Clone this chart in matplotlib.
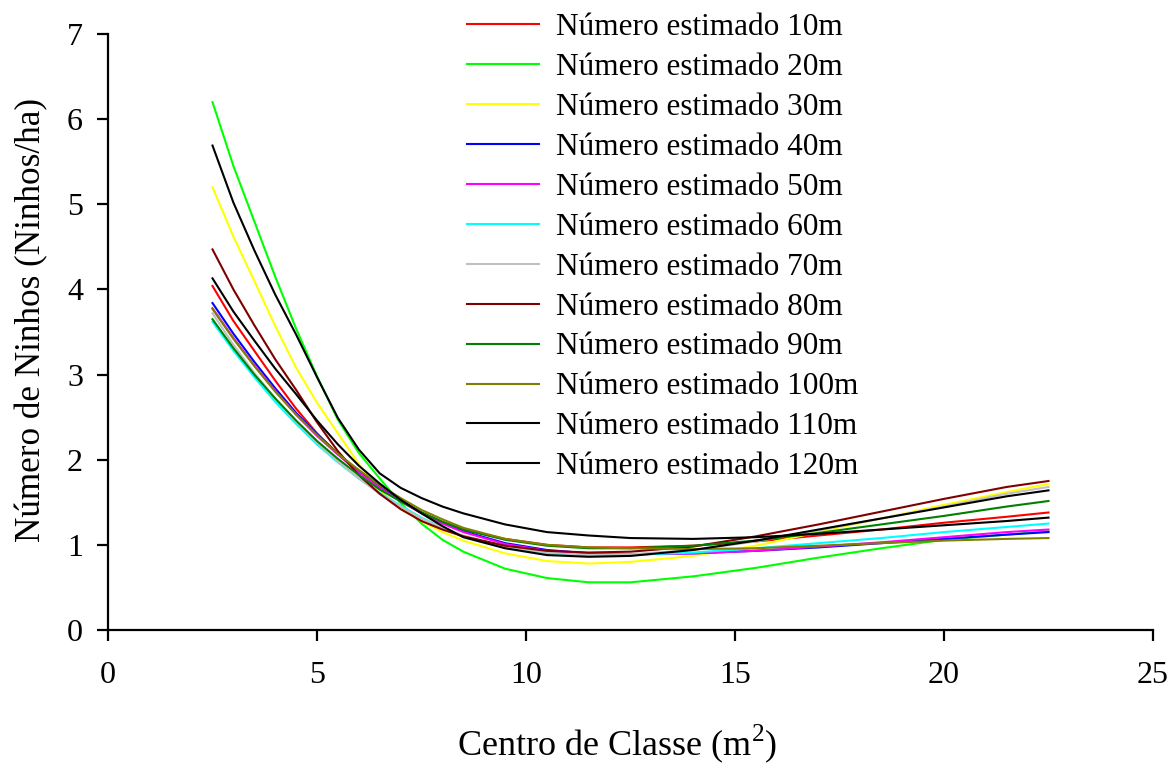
import numpy as np
import matplotlib
matplotlib.use('Agg')
import matplotlib.pyplot as plt

plt.rcParams['font.family'] = ['Liberation Serif', 'DejaVu Serif']
plt.rcParams['mathtext.fontset'] = 'custom'
plt.rcParams['mathtext.rm'] = 'Liberation Serif'

# class centres (m2) where the estimated curves are evaluated
centro = [2.5, 3, 3.5, 4, 4.5, 5, 5.5, 6, 6.5, 7, 7.5, 8, 8.5,
          9.5, 10.5, 11.5, 12.5, 14, 15.5, 17, 18.5, 20, 21.5, 22.5]

# estimated nest density (nests/ha) for each sampling distance
est_10m = [4.04, 3.63, 3.28, 2.93, 2.60, 2.31, 2.07, 1.86, 1.68, 1.52, 1.38, 1.27, 1.18,
           1.07, 1.00, 0.97, 0.97, 0.99, 1.04, 1.11, 1.18, 1.26, 1.33, 1.38]
est_20m = [6.20, 5.45, 4.80, 4.15, 3.54, 2.98, 2.47, 2.08, 1.78, 1.49, 1.25, 1.06, 0.92,
           0.72, 0.61, 0.56, 0.56, 0.63, 0.73, 0.85, 0.96, 1.06, 1.12, 1.16]
est_30m = [5.20, 4.62, 4.10, 3.57, 3.08, 2.67, 2.31, 1.95, 1.64, 1.43, 1.28, 1.15, 1.05,
           0.90, 0.81, 0.78, 0.80, 0.87, 0.99, 1.15, 1.31, 1.47, 1.62, 1.715]
est_40m = [3.84, 3.48, 3.15, 2.84, 2.55, 2.30, 2.07, 1.86, 1.68, 1.52, 1.38, 1.26, 1.16,
           1.02, 0.94, 0.90, 0.89, 0.90, 0.93, 0.97, 1.02, 1.07, 1.12, 1.15]
est_50m = [3.78, 3.43, 3.11, 2.81, 2.53, 2.28, 2.06, 1.85, 1.67, 1.51, 1.37, 1.25, 1.15,
           1.01, 0.93, 0.90, 0.89, 0.90, 0.93, 0.98, 1.03, 1.09, 1.15, 1.18]
est_60m = [3.62, 3.28, 2.97, 2.68, 2.42, 2.18, 1.97, 1.78, 1.61, 1.46, 1.32, 1.20, 1.10,
           0.97, 0.90, 0.88, 0.88, 0.91, 0.96, 1.02, 1.08, 1.15, 1.21, 1.25]
est_70m = [3.72, 3.35, 3.02, 2.72, 2.45, 2.20, 1.98, 1.78, 1.60, 1.45, 1.31, 1.20, 1.11,
           0.98, 0.91, 0.88, 0.89, 0.94, 1.04, 1.17, 1.31, 1.45, 1.60, 1.68]
est_80m = [4.47, 4.00, 3.58, 3.18, 2.82, 2.44, 2.10, 1.82, 1.60, 1.42, 1.28, 1.18, 1.10,
           0.99, 0.93, 0.91, 0.92, 0.98, 1.10, 1.24, 1.39, 1.54, 1.68, 1.75]
est_90m = [3.65, 3.31, 3.00, 2.72, 2.46, 2.22, 2.01, 1.82, 1.65, 1.51, 1.38, 1.27, 1.18,
           1.06, 0.99, 0.96, 0.96, 0.99, 1.05, 1.14, 1.24, 1.34, 1.45, 1.515]
est_100m = [3.77, 3.42, 3.10, 2.80, 2.53, 2.29, 2.07, 1.88, 1.70, 1.55, 1.41, 1.30, 1.20,
            1.07, 1.00, 0.97, 0.96, 0.95, 0.96, 0.99, 1.02, 1.05, 1.07, 1.08]
est_110m = [4.13, 3.74, 3.40, 3.07, 2.77, 2.46, 2.18, 1.93, 1.72, 1.53, 1.37, 1.22, 1.09,
            0.96, 0.88, 0.86, 0.87, 0.94, 1.05, 1.18, 1.31, 1.44, 1.57, 1.64]
est_120m = [5.69, 5.02, 4.46, 3.94, 3.47, 2.97, 2.49, 2.12, 1.84, 1.67, 1.55, 1.45, 1.37,
            1.24, 1.15, 1.11, 1.08, 1.07, 1.09, 1.13, 1.18, 1.23, 1.28, 1.32]

series = [est_10m, est_20m, est_30m, est_40m, est_50m, est_60m,
          est_70m, est_80m, est_90m, est_100m, est_110m, est_120m]
labels = ['Número estimado %dm' % d for d in range(10, 130, 10)]
colors = ['#ff0000', '#00ff00', '#ffff00', '#0000ff', '#ff00ff', '#00ffff',
          '#c0c0c0', '#800000', '#008000', '#808000', '#000000', '#000000']

fig = plt.figure(figsize=(11.76, 7.71), dpi=100)
ax = fig.add_axes([108 / 1176, 141 / 771, 1045 / 1176, 596 / 771])

for y, c, lab in zip(series, colors, labels):
    ax.plot(centro, y, color=c, lw=1.5, label=lab)

ax.set_xlim(0, 25)
ax.set_ylim(0, 7)
ax.set_xticks(np.arange(0, 26, 5))
ax.set_yticks(np.arange(0, 8, 1))
for s in ['top', 'right']:
    ax.spines[s].set_visible(False)
for s in ['left', 'bottom']:
    ax.spines[s].set_linewidth(1.6)
ax.tick_params(direction='out', length=8, width=1.6, labelsize=23)
ax.tick_params(axis='x', pad=14)
ax.tick_params(axis='y', pad=10)

ax.set_xlabel('Centro de Classe (m$^{\\mathregular{2}}$)', fontsize=26)
ax.xaxis.set_label_coords(0.487, -0.155)
ax.set_ylabel('Número de Ninhos (Ninhos/ha)', fontsize=25.3)
ax.yaxis.set_label_coords(-0.057, 0.52)

leg = ax.legend(loc='upper left', bbox_to_anchor=(467 / 1176, 1 - 13 / 771),
                bbox_transform=fig.transFigure, frameon=False, fontsize=22.5,
                handlelength=2.3, handletextpad=0.55, labelspacing=0.35,
                borderpad=0, borderaxespad=0)

fig.savefig('out.png', dpi=100)
